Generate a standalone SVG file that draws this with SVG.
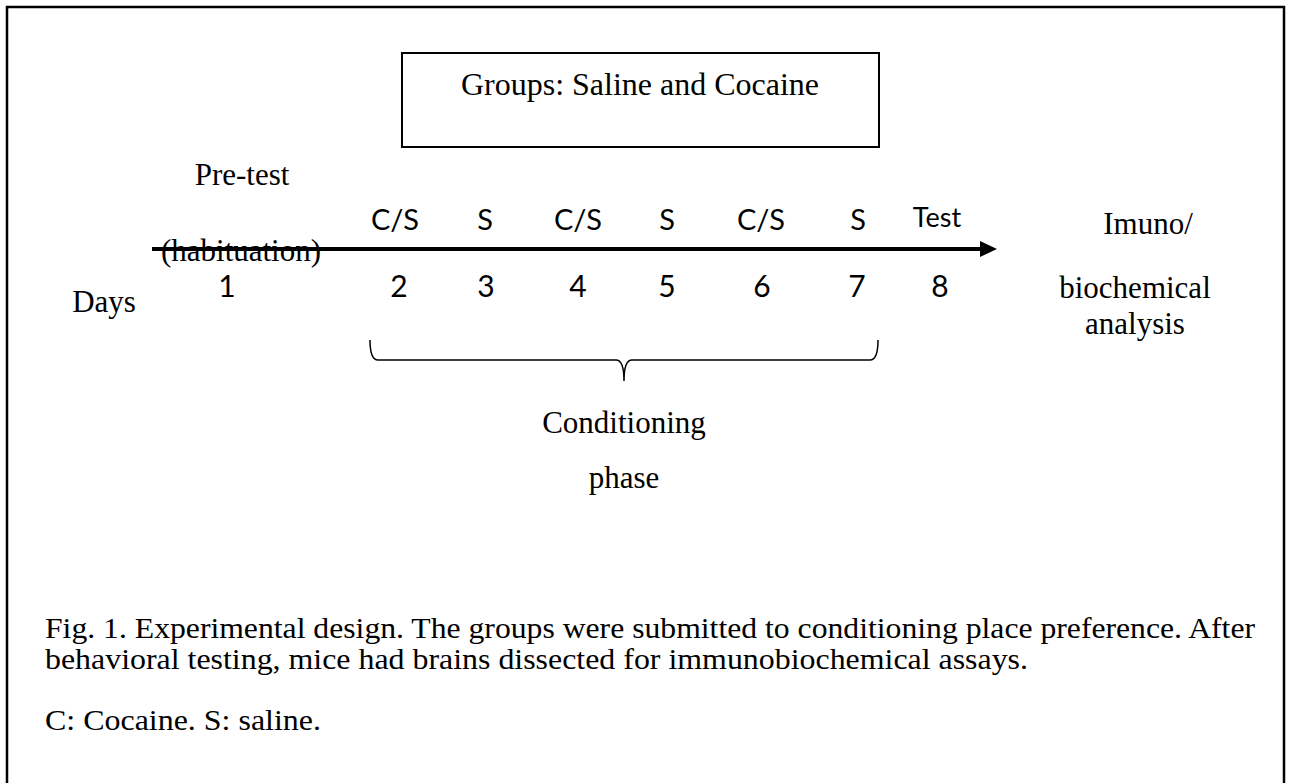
<svg xmlns="http://www.w3.org/2000/svg" width="1290" height="783" viewBox="0 0 1290 783">
<style>
.serif{font-family:"Liberation Serif","Times New Roman",serif;fill:#000;}
.sans{font-family:Lato,"Open Sans","Liberation Sans",sans-serif;fill:#000;}
.frame{fill:none;stroke:#000;}
</style>
<rect width="1290" height="783" fill="#fff"/>
<path class="frame" d="M7,790 V7 H1284 V790" stroke-width="2.5"/>
<g id="groups-box">
<rect class="frame" x="402" y="53" width="477" height="94" stroke-width="2"/>
<text class="serif" x="640" y="95" font-size="32" text-anchor="middle">Groups: Saline and Cocaine</text>
</g>
<g id="connectors">
<line x1="152" y1="249" x2="980" y2="249" stroke="#000" stroke-width="4"/>
<path d="M980,241 L997,249 L980,257 Z" fill="#000"/>
<path d="M370,340 Q370,360 378,360 H616 Q624,360 624,381 Q624,360 632,360 H870 Q878,360 878,340" fill="none" stroke="#000" stroke-width="1.5"/>
</g>
<g id="day1">
<text class="serif" x="242" y="185" font-size="31" text-anchor="middle">Pre-test</text>
<text class="serif" x="241" y="261" font-size="31" text-anchor="middle">(habituation)</text>
<text class="sans" x="227" y="297" font-size="30" text-anchor="middle">1</text>
</g>
<g id="days-label"><text class="serif" x="104" y="312" font-size="31" text-anchor="middle">Days</text></g>
<g id="day2"><text class="sans" x="395" y="230" font-size="29" text-anchor="middle">C/S</text><text class="sans" x="399" y="297" font-size="30" text-anchor="middle">2</text></g>
<g id="day3"><text class="sans" x="485" y="230" font-size="29" text-anchor="middle">S</text><text class="sans" x="486" y="297" font-size="30" text-anchor="middle">3</text></g>
<g id="day4"><text class="sans" x="578" y="230" font-size="29" text-anchor="middle">C/S</text><text class="sans" x="578" y="297" font-size="30" text-anchor="middle">4</text></g>
<g id="day5"><text class="sans" x="667" y="230" font-size="29" text-anchor="middle">S</text><text class="sans" x="667" y="297" font-size="30" text-anchor="middle">5</text></g>
<g id="day6"><text class="sans" x="761" y="230" font-size="29" text-anchor="middle">C/S</text><text class="sans" x="762" y="297" font-size="30" text-anchor="middle">6</text></g>
<g id="day7"><text class="sans" x="858" y="230" font-size="29" text-anchor="middle">S</text><text class="sans" x="857" y="297" font-size="30" text-anchor="middle">7</text></g>
<g id="day8"><text class="sans" x="937" y="227" font-size="27" text-anchor="middle">Test</text><text class="sans" x="940" y="297" font-size="30" text-anchor="middle">8</text></g>
<g id="analysis">
<text class="serif" x="1148" y="234" font-size="31" text-anchor="middle">Imuno/</text>
<text class="serif" x="1135" y="298" font-size="31" text-anchor="middle">biochemical</text>
<text class="serif" x="1135" y="334" font-size="31" text-anchor="middle">analysis</text>
</g>
<g id="conditioning">
<text class="serif" x="624" y="433" font-size="31" text-anchor="middle">Conditioning</text>
<text class="serif" x="624" y="488" font-size="31" text-anchor="middle">phase</text>
</g>
<g id="caption">
<text class="serif" x="45" y="638" font-size="29" textLength="1210" lengthAdjust="spacingAndGlyphs">Fig. 1. Experimental design. The groups were submitted to conditioning place preference. After</text>
<text class="serif" x="45" y="669" font-size="29" textLength="983" lengthAdjust="spacingAndGlyphs">behavioral testing, mice had brains dissected for immunobiochemical assays.</text>
<text class="serif" x="45" y="730" font-size="29" textLength="276" lengthAdjust="spacingAndGlyphs">C: Cocaine. S: saline.</text>
</g>
</svg>
